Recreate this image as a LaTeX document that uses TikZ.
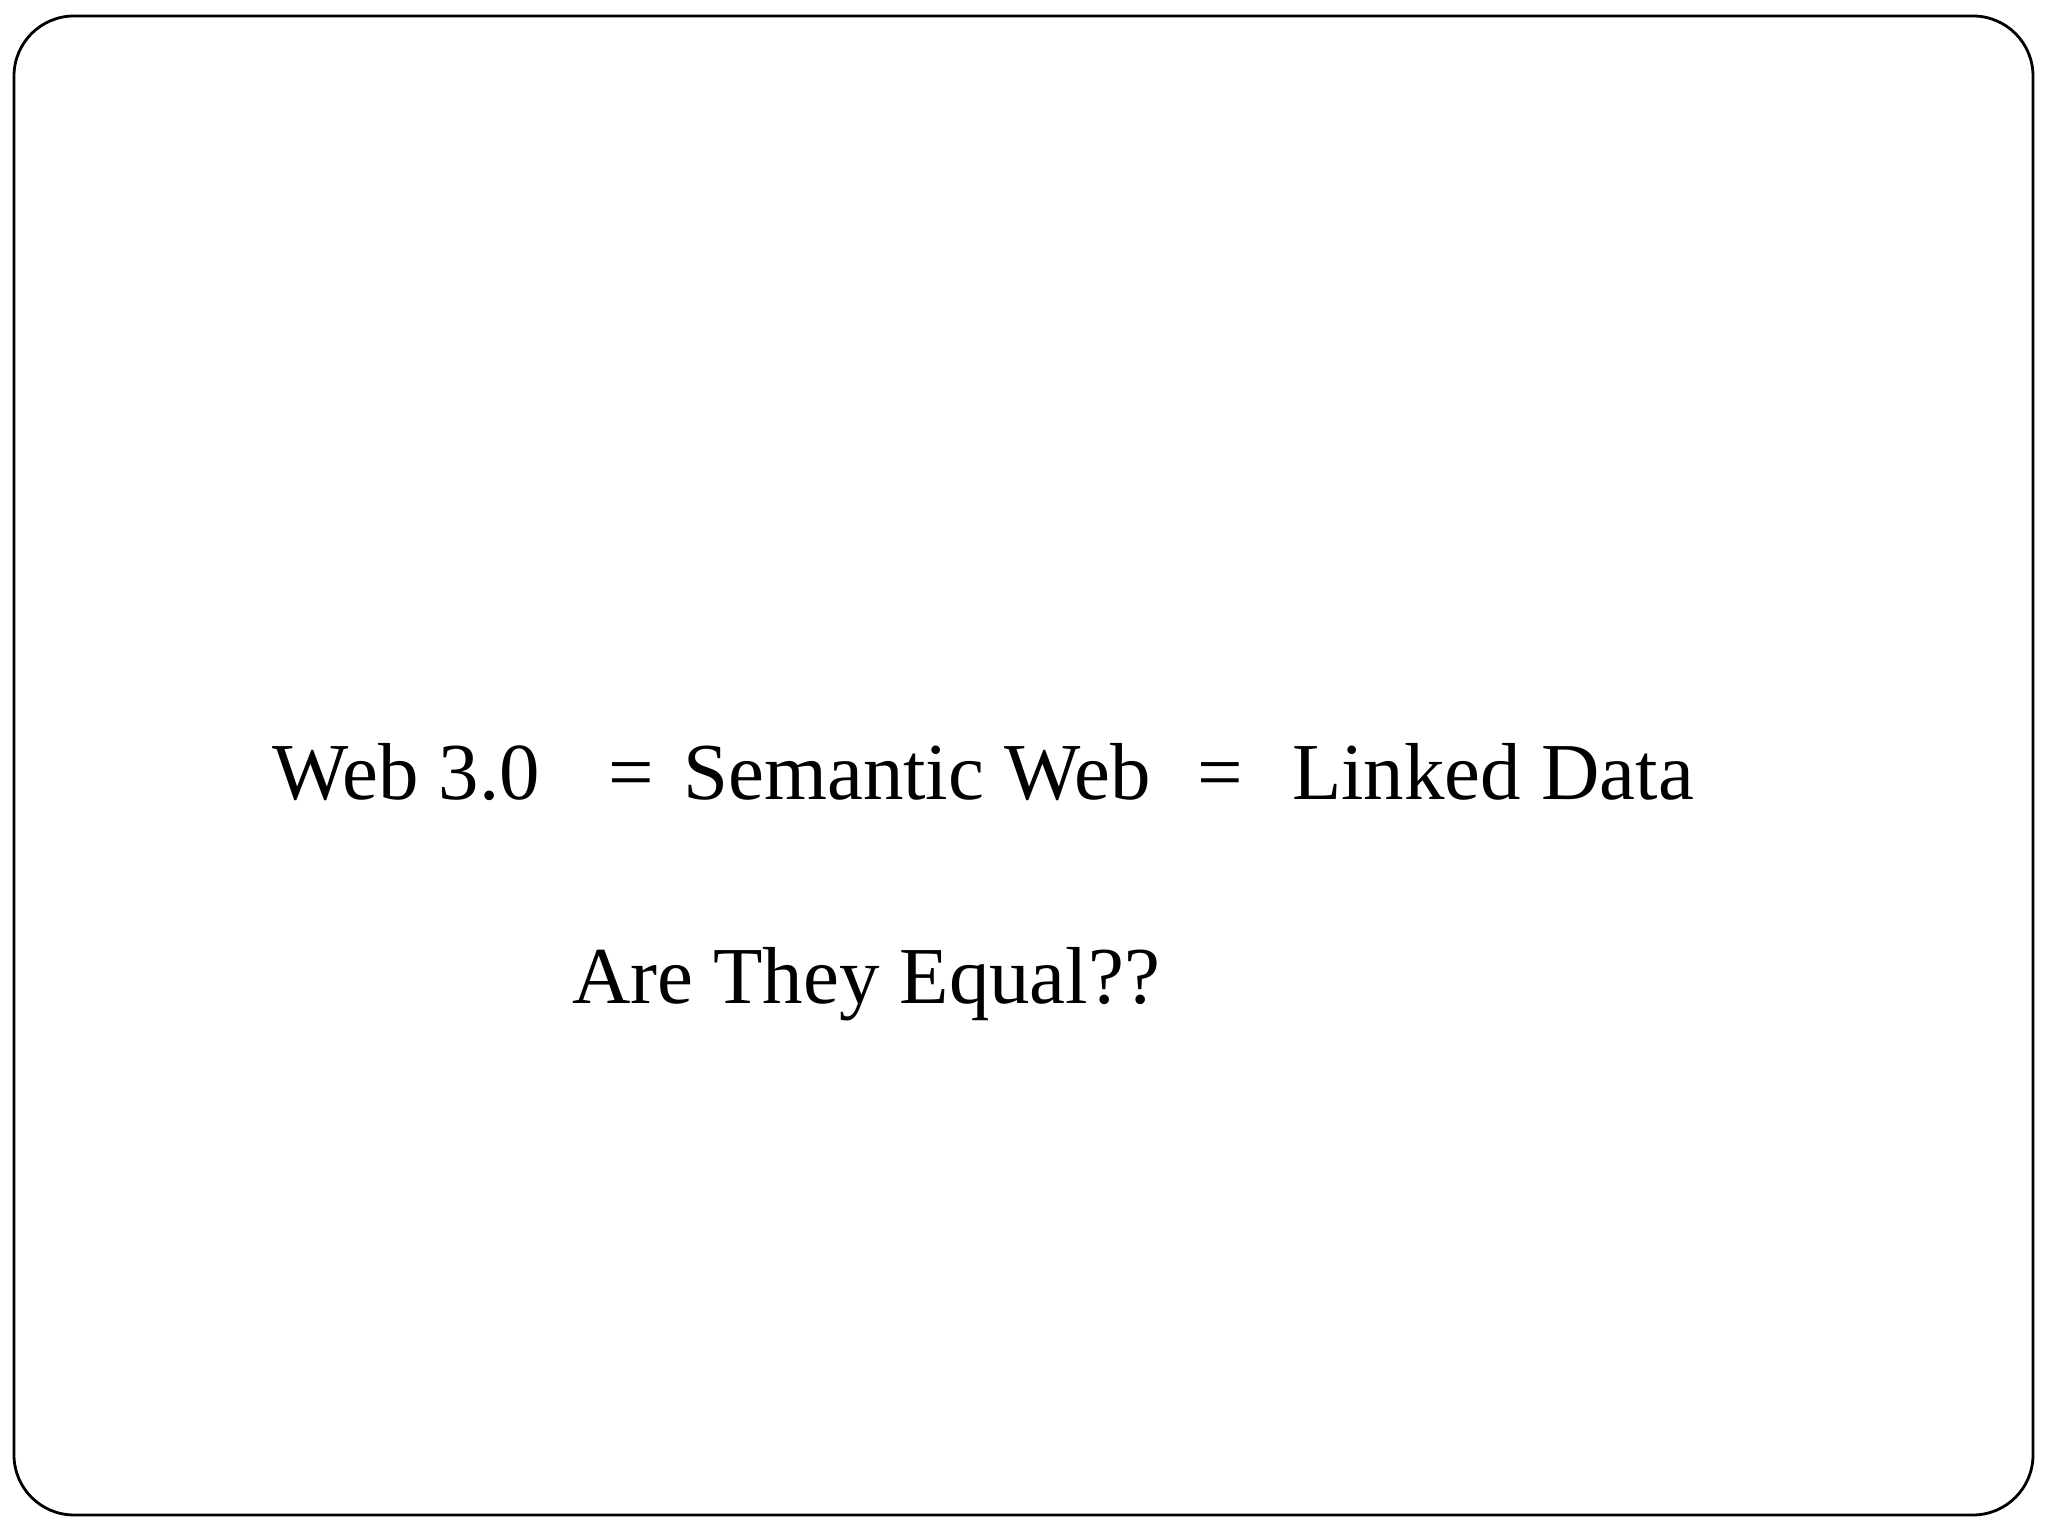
\documentclass[tikz,border=0pt]{standalone}
\usepackage{fontspec}
\setmainfont{Liberation Serif}
\begin{document}
\begin{tikzpicture}
\tikzset{txt/.style={inner sep=0pt, font=\fontsize{23}{27}\selectfont, anchor=base}}
\useasboundingbox (0,0) rectangle (20.48,15.36);
\fill[white] (0,0) rectangle (20.48,15.36);
\draw[line width=0.8pt, rounded corners=0.6cm] (0.14,0.21) rectangle (20.33,15.2);
\node[txt] (a) at (4.06,7.36) {Web 3.0};
\node[txt] (e1) at (6.31,7.36) {=};
\node[txt] (b) at (9.17,7.36) {Semantic Web};
\node[txt] (e2) at (12.20,7.36) {=};
\node[txt] (c) at (14.93,7.36) {Linked Data};
\node[txt] (q) at (8.66,5.32) {Are They Equal??};
\end{tikzpicture}
\end{document}
